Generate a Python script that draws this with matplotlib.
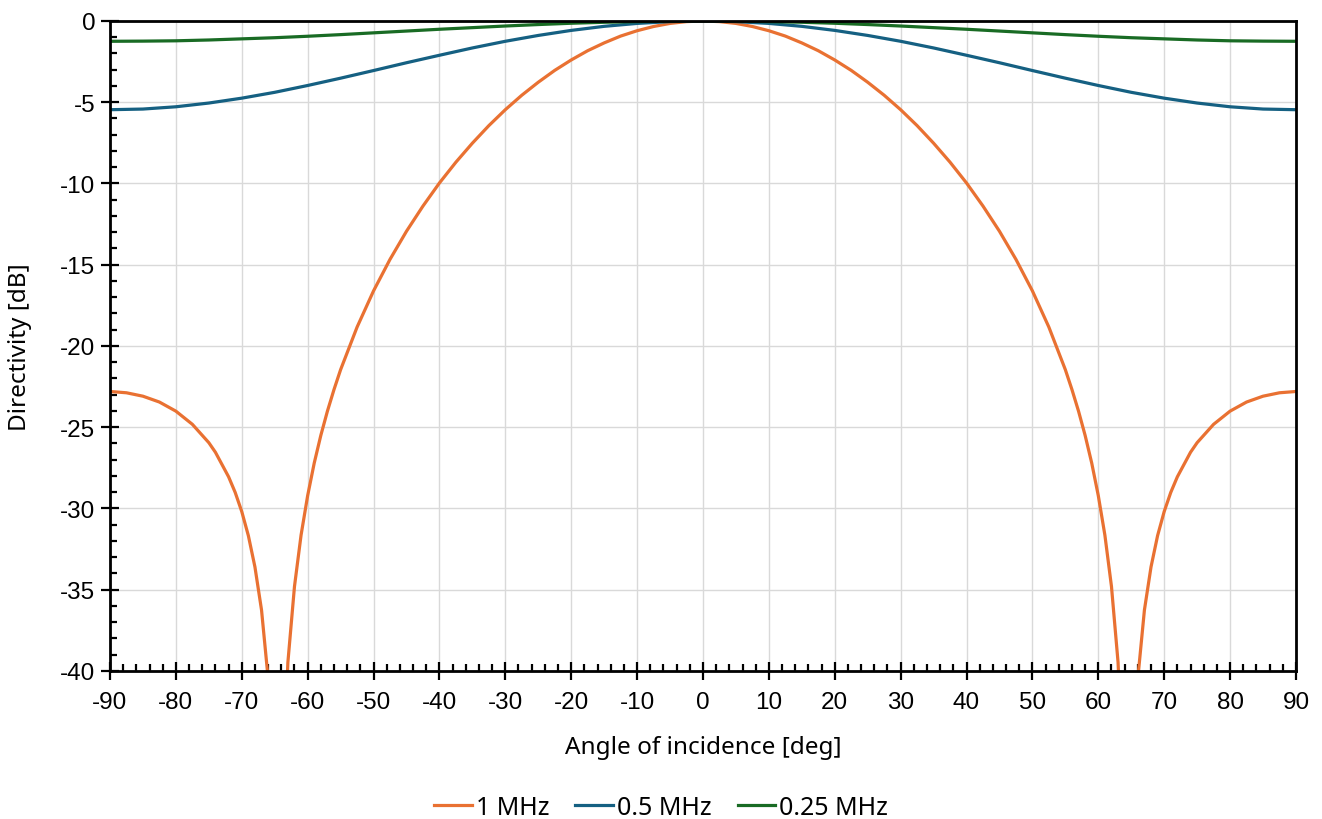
import matplotlib
matplotlib.use("Agg")
import matplotlib.pyplot as plt
from matplotlib.ticker import MultipleLocator

plt.rcParams["axes.unicode_minus"] = False
plt.rcParams["font.family"] = ["Liberation Sans", "DejaVu Sans"]

# angles [deg] and directivity [dB]
angles_1mhz = [-90, -87.5, -85, -82.5, -80, -77.5, -75, -74, -72, -71, -70, -69, -68, -67, -66, -65,
               -64, -63, -62, -61, -60, -59, -58, -57, -56, -55, -52.5, -50, -47.5, -45, -42.5,
               -40, -37.5, -35, -32.5, -30, -27.5, -25, -22.5, -20, -17.5, -15, -12.5, -10,
               -7.5, -5, -2.5, 0,
               2.5, 5, 7.5, 10, 12.5, 15, 17.5, 20, 22.5, 25, 27.5, 30, 32.5, 35, 37.5, 40,
               42.5, 45, 47.5, 50, 52.5, 55, 56, 57, 58, 59, 60, 61, 62, 63, 64, 65, 66, 67,
               68, 69, 70, 71, 72, 74, 75, 77.5, 80, 82.5, 85, 87.5, 90]
d_1mhz = [-22.80, -22.88, -23.09, -23.45, -24.01, -24.82, -25.95, -26.54, -28.05, -29.01, -30.19,
          -31.67, -33.60, -36.25, -40.45, -49.9, -49.2, -39.47, -34.80, -31.64, -29.21, -27.20,
          -25.50, -24.01, -22.68, -21.46, -18.84, -16.61, -14.67, -12.94, -11.39, -9.97, -8.69,
          -7.52, -6.44, -5.46, -4.57, -3.77, -3.04, -2.40, -1.83, -1.35, -0.93, -0.60, -0.34,
          -0.15, -0.04, 0.0,
          -0.04, -0.15, -0.34, -0.60, -0.93, -1.35, -1.83, -2.40, -3.04, -3.77, -4.57, -5.46,
          -6.44, -7.52, -8.69, -9.97, -11.39, -12.94, -14.67, -16.61, -18.84, -21.46, -22.68,
          -24.01, -25.50, -27.20, -29.21, -31.64, -34.80, -39.47, -49.2, -49.9, -40.45, -36.25,
          -33.60, -31.67, -30.19, -29.01, -28.05, -26.54, -25.95, -24.82, -24.01, -23.45,
          -23.09, -22.88, -22.80]

angles = [-90, -85, -80, -75, -70, -65, -60, -55, -50, -45, -40, -35, -30, -25, -20, -15, -10, -5, 0,
          5, 10, 15, 20, 25, 30, 35, 40, 45, 50, 55, 60, 65, 70, 75, 80, 85, 90]
d_05mhz = [-5.46, -5.42, -5.28, -5.05, -4.75, -4.39, -3.97, -3.52, -3.05, -2.57, -2.11, -1.66,
           -1.25, -0.89, -0.58, -0.33, -0.15, -0.04, 0.0,
           -0.04, -0.15, -0.33, -0.58, -0.89, -1.25, -1.66, -2.11, -2.57, -3.05, -3.52, -3.97,
           -4.39, -4.75, -5.05, -5.28, -5.42, -5.46]
d_025mhz = [-1.25, -1.24, -1.22, -1.17, -1.10, -1.03, -0.94, -0.84, -0.73, -0.62, -0.51, -0.41,
            -0.31, -0.22, -0.14, -0.08, -0.04, -0.01, 0.0,
            -0.01, -0.04, -0.08, -0.14, -0.22, -0.31, -0.41, -0.51, -0.62, -0.73, -0.84, -0.94,
            -1.03, -1.10, -1.17, -1.22, -1.24, -1.25]

fig = plt.figure(figsize=(13.22, 8.2), dpi=100)
ax = fig.add_axes([0.0832, 0.1805, 0.8971, 0.7927])

ax.plot(angles_1mhz, d_1mhz, color="#E97132", lw=2.3, label="1 MHz")
ax.plot(angles, d_05mhz, color="#156082", lw=2.3, label="0.5 MHz")
ax.plot(angles, d_025mhz, color="#196B24", lw=2.3, label="0.25 MHz")

ax.set_xlim(-90, 90)
ax.set_ylim(-40, 0)
ax.xaxis.set_major_locator(MultipleLocator(10))
ax.xaxis.set_minor_locator(MultipleLocator(2))
ax.yaxis.set_major_locator(MultipleLocator(5))
ax.yaxis.set_minor_locator(MultipleLocator(1))

ax.grid(True, which="major", color="#D9D9D9", lw=1.0)
ax.set_axisbelow(True)

for s in ax.spines.values():
    s.set_color("black")
    s.set_linewidth(2.0)

ax.tick_params(which="major", direction="inout", length=13, width=1.6,
               labelsize=17.5, pad=4)
ax.tick_params(axis="x", which="major", pad=8)
ax.tick_params(which="minor", direction="in", length=5, width=1.6)
ax.tick_params(top=False, right=False, which="both")

ax.set_xlabel("Angle of incidence [deg]", fontsize=17.5, family="Noto Sans")
ax.set_ylabel("Directivity [dB]", fontsize=17.5, family="Noto Sans")
ax.xaxis.set_label_coords(0.5, -0.098)
ax.yaxis.set_label_coords(-0.066, 0.5)

fig.legend(loc="center", bbox_to_anchor=(0.5, 0.0146), ncol=3, frameon=False,
           prop={"family": "Noto Sans", "size": 18}, handlelength=1.5, handletextpad=0.15,
           columnspacing=1.05)

fig.savefig("out.png", dpi=100)
